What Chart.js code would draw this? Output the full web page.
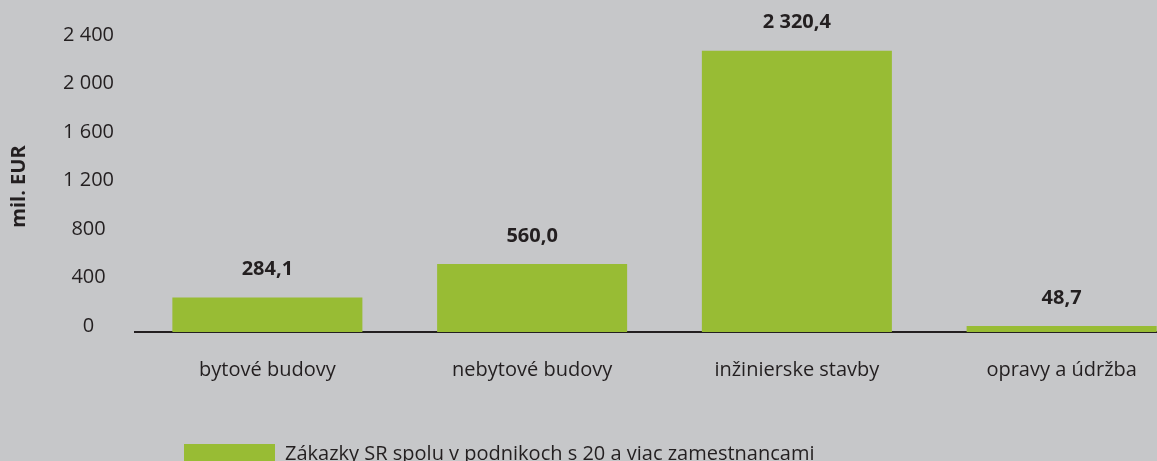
<!DOCTYPE html>
<html lang="sk">
<head>
<meta charset="utf-8">
<title>Zákazky SR</title>
<script src="https://cdn.jsdelivr.net/npm/chart.js@4"></script>
<style>
  html, body { margin: 0; padding: 0; background: #c6c7c9; overflow: hidden; }
  #wrap { width: 1157px; height: 461px; overflow: hidden; }
  canvas { display: block; }
</style>
</head>
<body>
<div id="wrap"><canvas id="chart" width="1200" height="480"></canvas></div>
<script>
// --- Data ---
const categories = ['bytové budovy', 'nebytové budovy', 'inžinierske stavby', 'opravy a údržba'];
const orderValues = [284.1, 560.0, 2320.4, 48.7];
const seriesLabel = 'Zákazky SR spolu v podnikoch s 20 a viac zamestnancami';
const yTicks = [0, 400, 800, 1200, 1600, 2000, 2400];
const yTitle = 'mil. EUR';

// --- Style ---
const INK = '#231f20';
const GREEN = '#98bc34';
const FONT = '"Open Sans", "DejaVu Sans", sans-serif';
const LEGEND_X = 184;   // left edge of the legend swatch

// slovak number format: "2 320,4"
function fmtSk(v, dec) {
  const parts = v.toFixed(dec).split('.');
  const int = parts[0].replace(/\B(?=(\d{3})+(?!\d))/g, ' ');
  return parts[1] ? int + ',' + parts[1] : int;
}

// bold value above each bar
const valueLabels = {
  id: 'valueLabels',
  afterDatasetsDraw(chart) {
    const ctx = chart.ctx;
    const meta = chart.getDatasetMeta(0);
    ctx.save();
    ctx.font = 'bold 20px ' + FONT;
    ctx.fillStyle = INK;
    ctx.textAlign = 'center';
    ctx.textBaseline = 'middle';
    meta.data.forEach((bar, i) => {
      ctx.fillText(fmtSk(orderValues[i], 1), bar.x, bar.y - 28);
    });
    ctx.restore();
  }
};

// legend sits under the first category, not at the canvas edge
const legendNudge = {
  id: 'legendNudge',
  afterLayout(chart) {
    const lg = chart.legend;
    const dx = LEGEND_X - (lg.left + lg.options.labels.padding);
    lg.left += dx;
    lg.right += dx;
  }
};

new Chart(document.getElementById('chart'), {
  type: 'bar',
  data: {
    labels: categories,
    datasets: [{
      label: seriesLabel,
      data: orderValues,
      backgroundColor: GREEN,
      borderWidth: 0,
      categoryPercentage: 1,
      barPercentage: 0.7177,
    }],
  },
  options: {
    responsive: false,
    animation: false,
    layout: { padding: { left: 3, right: 6, top: 41, bottom: 6 } },
    plugins: {
      legend: {
        position: 'bottom',
        align: 'start',
        labels: { boxWidth: 91, boxHeight: 20, padding: 10, color: INK, font: { family: FONT, size: 20 } },
      },
      tooltip: { enabled: false },
    },
    scales: {
      x: {
        grid: { display: false, drawTicks: false },
        border: { display: true, color: INK, width: 2 },
        ticks: { color: INK, font: { family: FONT, size: 20 }, padding: 26, maxRotation: 0, autoSkip: false },
        afterFit: s => { s.height = 102; },
      },
      y: {
        min: 0,
        max: 2400,
        grid: { display: false, drawTicks: false },
        border: { display: false },
        afterBuildTicks: s => { s.ticks = yTicks.map(v => ({ value: v })); },
        ticks: {
          color: INK,
          font: { family: FONT, size: 20 },
          crossAlign: 'center',
          padding: 21,
          labelOffset: -6,
          callback: v => fmtSk(v, 0),
        },
        title: {
          display: true,
          text: yTitle,
          color: INK,
          font: { family: FONT, size: 20, weight: 'bold' },
          padding: { top: 4, bottom: 0 },
        },
        afterFit: s => { s.width = 132; },
      },
    },
  },
  plugins: [valueLabels, legendNudge],
});
</script>
</body>
</html>
